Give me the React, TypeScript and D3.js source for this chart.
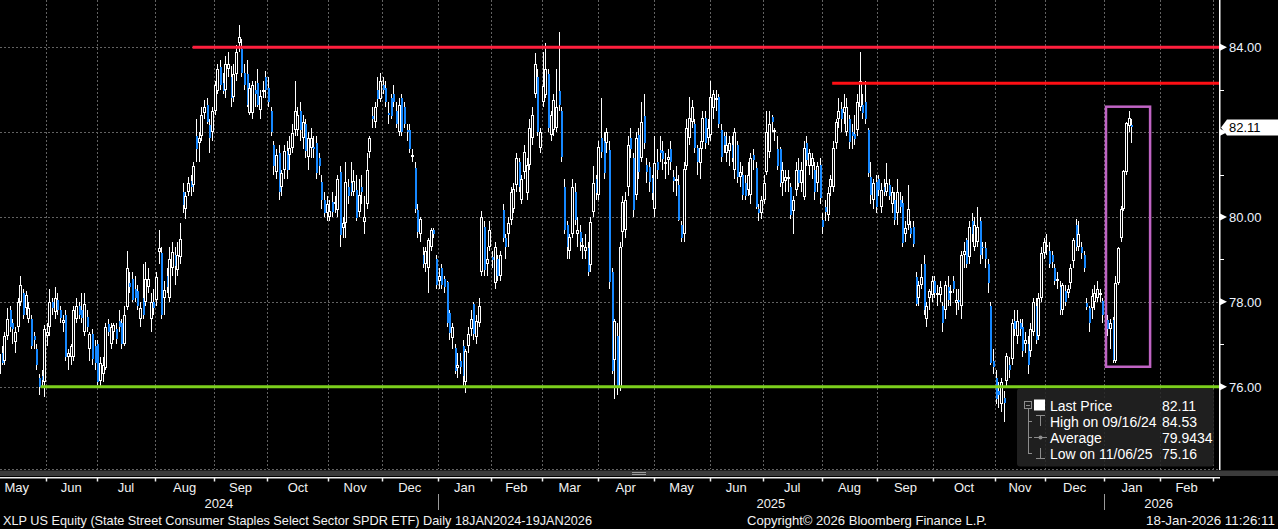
import * as d3 from "d3";

// open, high, low, close
type Bar = [number, number, number, number];

const may24: Bar[] = [
  [76.5, 76.9, 76.3, 76.7], [76.3, 76.9, 76.2, 76.78], [76.8, 76.95, 76.5, 76.55], [76.6, 77.3, 76.5, 77.2],
  [77.2, 77.85, 77.1, 77.6], [77.8, 77.9, 77.3, 77.4], [77.5, 77.6, 77.0, 77.35], [77.05, 77.4, 76.8, 77.3],
  [77.4, 78.1, 77.3, 78.0], [78.0, 78.6, 77.9, 78.4], [78.2, 78.3, 77.6, 77.7], [77.85, 78.25, 77.7, 78.15],
  [77.6, 78.0, 77.5, 77.85], [77.6, 77.7, 76.9, 76.95], [77.2, 77.3, 76.9, 77.1], [76.9, 77.0, 76.4, 76.5],
  [76.2, 76.3, 75.8, 76.0], [76.25, 76.4, 76.0, 76.15], [76.1, 77.45, 75.75, 77.35],
];
const jun24: Bar[] = [
  [77.2, 77.5, 76.95, 77.3], [77.4, 78.3, 77.2, 78.0], [78.0, 78.1, 77.7, 77.85], [77.75, 78.35, 77.6, 78.1],
  [78.05, 78.2, 77.7, 77.8], [77.8, 77.9, 77.5, 77.63], [77.5, 77.7, 77.3, 77.58], [77.7, 77.8, 76.6, 76.7],
  [76.7, 76.9, 76.4, 76.8], [76.7, 77.0, 76.5, 76.97], [76.7, 77.9, 76.6, 77.8], [77.6, 78.1, 77.5, 77.9],
  [77.9, 78.0, 77.6, 77.7], [77.8, 78.2, 77.5, 77.62], [77.28, 78.2, 77.2, 77.96], [77.65, 77.8, 77.3, 77.4],
  [76.9, 77.3, 76.6, 77.25], [77.25, 77.35, 76.5, 76.66], [76.97, 77.1, 76.4, 76.57],
];
const jul24: Bar[] = [
  [77.0, 77.1, 76.05, 76.1], [76.14, 76.7, 76.0, 76.57], [76.3, 76.7, 76.1, 76.5], [76.45, 77.5, 76.4, 77.4],
  [77.47, 77.6, 77.2, 77.28], [77.0, 77.5, 76.9, 77.4], [77.3, 77.5, 77.1, 77.45], [77.35, 77.5, 77.0, 77.13],
  [77.55, 77.8, 77.3, 77.4], [77.5, 77.6, 76.9, 77.0], [77.0, 77.9, 76.95, 77.7], [77.87, 79.2, 77.8, 78.8],
  [78.45, 78.7, 78.2, 78.35], [78.55, 78.7, 78.0, 78.05], [78.3, 78.6, 78.0, 78.1], [78.25, 78.4, 77.8, 77.9],
  [77.6, 78.0, 77.4, 77.85], [78.1, 78.9, 77.6, 77.7], [78.0, 78.95, 77.9, 78.55], [78.35, 78.8, 78.2, 78.55],
  [77.6, 78.2, 77.3, 78.0], [78.0, 78.3, 77.7, 77.85],
];
const aug24: Bar[] = [
  [78.04, 78.7, 77.9, 78.58], [79.17, 79.7, 78.9, 79.27], [79.15, 79.3, 77.6, 77.7], [78.08, 78.5, 77.7, 78.27],
  [78.6, 78.8, 78.2, 78.35], [78.1, 79.3, 78.0, 79.0], [78.8, 79.4, 78.6, 79.17], [79.1, 79.3, 78.4, 78.85],
  [78.75, 79.4, 78.6, 79.1], [79.05, 79.85, 78.9, 79.48], [80.6, 80.8, 80.1, 80.28], [80.2, 80.6, 79.95, 80.5],
  [80.6, 80.95, 80.5, 80.8], [80.85, 81.0, 80.5, 80.7], [80.75, 81.3, 80.6, 81.2], [81.9, 82.3, 81.3, 81.6],
  [81.75, 82.0, 81.3, 81.87], [81.9, 82.6, 81.8, 82.4], [82.46, 82.75, 82.3, 82.6], [82.65, 82.8, 82.2, 82.25],
  [82.17, 82.3, 81.5, 81.87], [82.0, 82.6, 81.8, 82.5],
];
const sep24: Bar[] = [
  [82.5, 83.2, 82.4, 83.1], [82.96, 83.6, 82.9, 83.5], [83.53, 83.7, 83.0, 83.12], [83.17, 83.4, 82.9, 82.96],
  [83.0, 83.8, 82.8, 83.6], [83.48, 83.9, 83.3, 83.6], [83.3, 83.55, 82.6, 82.8], [82.82, 83.6, 82.7, 83.36],
  [83.36, 84.05, 83.2, 83.9], [84.1, 84.53, 83.9, 84.25], [83.95, 84.2, 83.3, 83.4], [83.4, 83.6, 83.0, 83.12],
  [83.36, 83.7, 82.6, 82.65], [82.46, 83.15, 82.4, 83.05], [82.44, 83.2, 82.3, 83.1], [83.0, 83.2, 82.6, 82.9],
  [83.17, 83.5, 82.6, 82.65], [82.53, 83.0, 82.3, 82.85], [82.95, 83.2, 82.8, 83.0], [83.3, 83.45, 82.8, 83.0],
];
const oct24: Bar[] = [
  [83.05, 83.3, 82.6, 82.7], [82.5, 82.6, 81.9, 82.0], [81.7, 81.8, 81.0, 81.2], [81.07, 81.6, 80.9, 81.47],
  [81.5, 81.7, 80.4, 80.6], [80.7, 81.1, 80.5, 81.04], [81.1, 81.7, 80.9, 81.55], [81.55, 81.8, 80.9, 81.1],
  [81.47, 81.9, 81.1, 81.63], [81.63, 82.2, 81.5, 81.99], [82.06, 83.2, 81.9, 82.5], [82.06, 82.6, 81.9, 82.4],
  [82.5, 82.7, 81.8, 82.06], [81.87, 82.4, 81.6, 82.25], [82.2, 82.3, 81.4, 81.55], [81.42, 82.0, 81.1, 81.87],
  [81.63, 82.1, 81.4, 81.87], [81.65, 81.9, 81.4, 81.6], [81.75, 81.9, 80.9, 81.04], [81.4, 81.5, 81.0, 81.2],
  [80.83, 81.0, 80.2, 80.4], [80.4, 80.6, 80.0, 80.1], [80.1, 80.5, 79.9, 80.3],
];
const nov24: Bar[] = [
  [80.0, 80.4, 79.9, 80.14], [80.36, 80.6, 80.0, 80.12], [80.3, 80.5, 80.1, 80.36], [80.17, 81.0, 80.0, 80.9],
  [81.06, 81.2, 79.3, 79.57], [79.74, 80.0, 79.5, 79.86], [79.86, 81.3, 79.5, 80.83], [80.7, 80.9, 80.3, 80.5],
  [80.8, 81.3, 80.5, 80.6], [80.6, 81.1, 80.5, 80.85], [80.64, 81.0, 79.9, 79.98], [80.12, 80.9, 80.0, 80.52],
  [80.7, 81.0, 80.3, 80.6], [79.88, 80.5, 79.6, 80.0], [80.3, 81.5, 80.2, 81.1], [81.54, 81.9, 81.4, 81.87],
  [82.37, 82.6, 82.1, 82.3], [82.25, 82.7, 82.1, 82.6], [83.0, 83.3, 82.6, 82.77], [82.77, 83.4, 82.7, 83.2],
];
const dec24: Bar[] = [
  [83.12, 83.3, 82.9, 83.0], [83.05, 83.2, 82.6, 82.72], [82.45, 82.7, 82.2, 82.4], [82.8, 82.9, 82.3, 82.37],
  [82.9, 83.1, 82.6, 82.72], [82.5, 82.7, 82.1, 82.2], [82.0, 82.8, 81.9, 82.65], [82.8, 82.9, 81.9, 82.0],
  [82.6, 82.7, 82.1, 82.2], [82.05, 82.2, 81.8, 82.0], [82.06, 82.2, 81.5, 81.6], [81.45, 81.6, 81.3, 81.47],
  [81.16, 81.3, 80.1, 80.2], [80.17, 80.3, 79.5, 79.65], [79.6, 80.0, 79.4, 79.95], [79.1, 79.3, 78.8, 78.9],
  [78.9, 79.3, 78.7, 79.2], [78.8, 79.5, 78.2, 79.45], [79.3, 79.75, 79.2, 79.7], [79.7, 79.75, 79.5, 79.6],
  [79.0, 79.1, 78.3, 78.4],
];
const jan25: Bar[] = [
  [78.5, 78.8, 78.3, 78.6], [78.8, 78.9, 78.3, 78.4], [78.55, 78.6, 78.2, 78.35], [78.46, 78.5, 77.4, 77.5],
  [77.73, 77.8, 77.1, 77.26], [77.15, 77.5, 76.9, 77.4], [76.92, 77.0, 76.3, 76.38], [76.43, 76.8, 76.2, 76.5],
  [76.6, 76.8, 76.3, 76.47], [76.97, 77.1, 76.0, 76.26], [76.1, 76.9, 75.86, 76.85], [76.97, 77.4, 76.8, 77.25],
  [77.37, 77.8, 77.2, 77.6], [77.96, 78.0, 77.1, 77.25], [77.16, 77.7, 77.0, 77.56], [77.5, 78.1, 77.4, 77.9],
  [78.7, 80.15, 78.6, 80.0], [79.76, 79.9, 78.6, 78.75], [78.9, 79.3, 78.6, 79.0], [79.3, 79.9, 79.2, 79.7],
];
const feb25: Bar[] = [
  [79.06, 79.2, 78.8, 78.99], [78.44, 79.4, 78.3, 79.3], [79.0, 79.1, 78.5, 78.6], [78.6, 79.2, 78.5, 79.1],
  [80.17, 80.3, 79.4, 79.5], [79.5, 79.6, 79.0, 79.3], [79.6, 80.0, 79.3, 79.85], [79.93, 80.7, 79.8, 80.6],
  [80.2, 80.8, 80.1, 80.65], [80.76, 81.5, 80.6, 81.4], [81.3, 81.4, 80.6, 80.7], [80.4, 81.0, 80.3, 80.9],
  [81.07, 81.7, 80.9, 81.54], [80.57, 81.4, 80.4, 81.23], [81.23, 82.3, 81.1, 82.1], [81.87, 82.6, 81.7, 82.4],
  [82.9, 83.86, 82.8, 83.6], [83.3, 83.5, 81.9, 82.0], [81.63, 82.1, 81.5, 82.0],
];
const mar25: Bar[] = [
  [82.7, 83.9, 82.6, 83.08], [82.88, 84.1, 82.8, 83.5], [83.36, 83.5, 82.0, 82.1], [81.94, 82.5, 81.8, 82.4],
  [82.06, 82.9, 81.9, 82.76], [82.1, 83.5, 82.0, 82.6], [82.96, 84.35, 82.5, 82.65], [82.5, 82.6, 81.3, 81.42],
  [80.7, 80.9, 79.6, 79.7], [79.8, 79.9, 79.0, 79.3], [79.2, 79.6, 79.0, 79.53], [79.6, 80.9, 79.5, 80.7],
  [80.6, 80.8, 79.8, 79.93], [79.6, 80.0, 79.3, 79.7], [79.65, 79.8, 79.2, 79.4], [79.3, 79.5, 79.0, 79.35],
  [79.2, 79.6, 79.0, 79.3], [79.27, 79.4, 78.6, 78.7], [78.86, 80.0, 78.7, 79.88], [80.12, 81.2, 80.0, 80.8],
  [80.9, 81.0, 80.4, 80.57],
];
const apr25: Bar[] = [
  [80.52, 81.8, 80.4, 81.66], [81.87, 82.8, 81.4, 81.54], [81.8, 82.0, 80.9, 81.04], [81.75, 82.1, 81.5, 82.0],
  [81.59, 81.8, 78.3, 78.46], [78.7, 78.8, 76.3, 76.38], [76.62, 77.6, 75.7, 77.56], [77.2, 77.5, 75.8, 76.0],
  [76.0, 79.4, 75.9, 79.3], [79.64, 80.5, 79.3, 80.36], [79.7, 80.6, 79.5, 80.4], [80.7, 81.9, 80.5, 81.7],
  [81.87, 82.1, 81.4, 81.6], [81.4, 81.5, 80.0, 80.17], [80.52, 82.0, 80.4, 81.87], [81.94, 82.1, 80.9, 81.07],
  [81.4, 82.7, 81.3, 82.25], [82.37, 82.9, 81.6, 81.75], [81.23, 81.4, 80.8, 81.07], [81.18, 81.3, 80.6, 80.83],
  [80.92, 81.0, 80.4, 80.57],
];
const may25: Bar[] = [
  [80.2, 81.9, 80.0, 81.28], [81.3, 81.6, 80.9, 81.1], [81.59, 81.9, 81.3, 81.5], [81.55, 81.8, 81.1, 81.36],
  [81.25, 81.5, 80.9, 81.3], [81.35, 81.6, 81.0, 81.42], [81.6, 81.8, 81.1, 81.3], [80.95, 81.1, 80.6, 80.85],
  [80.85, 81.2, 80.5, 80.9], [80.75, 81.0, 79.9, 79.93], [79.8, 79.9, 79.4, 79.5], [79.6, 81.3, 79.4, 81.14],
  [81.2, 82.3, 81.1, 82.1], [81.87, 82.84, 81.7, 82.34], [82.25, 82.75, 82.1, 82.6], [82.2, 82.3, 81.5, 81.63],
  [81.63, 81.7, 81.0, 81.3], [81.28, 81.8, 80.9, 81.63], [81.77, 82.5, 81.6, 82.34], [82.34, 82.5, 81.6, 81.75],
  [81.87, 82.3, 81.7, 82.1],
];
const jun25: Bar[] = [
  [81.94, 83.2, 81.8, 82.84], [82.58, 83.0, 82.3, 82.9], [82.75, 83.0, 82.5, 82.8], [82.82, 82.9, 82.1, 82.2],
  [82.06, 82.2, 81.3, 81.42], [81.9, 82.0, 81.5, 81.7], [81.5, 82.0, 81.3, 81.7], [81.55, 81.9, 81.2, 81.75],
  [81.7, 81.9, 81.3, 81.4], [81.1, 82.1, 80.9, 82.0], [81.7, 81.8, 80.8, 80.95], [80.95, 81.3, 80.7, 81.05],
  [81.0, 81.2, 80.4, 80.52], [80.8, 81.0, 80.4, 80.5], [80.64, 81.3, 80.5, 81.0], [80.52, 81.5, 80.3, 81.4],
  [81.45, 81.6, 81.1, 81.35], [81.16, 81.3, 80.2, 80.24], [80.2, 80.3, 79.9, 80.1], [80.1, 80.5, 79.95, 80.4],
];
const jul25: Bar[] = [
  [80.4, 81.0, 80.3, 80.8], [81.07, 82.5, 81.0, 82.0], [81.54, 82.5, 81.4, 82.2], [82.35, 82.4, 82.0, 82.25],
  [82.0, 82.1, 81.8, 82.05], [81.6, 81.9, 81.1, 81.2], [81.6, 81.65, 80.7, 80.8], [80.8, 81.3, 80.5, 81.1],
  [80.85, 81.1, 80.6, 80.95], [80.9, 81.1, 80.6, 80.95], [80.7, 80.8, 79.95, 80.05], [80.14, 80.5, 79.6, 80.4],
  [80.64, 81.3, 80.5, 81.1], [81.1, 81.4, 80.7, 80.8], [80.8, 81.3, 80.6, 81.1], [80.47, 81.8, 80.4, 81.63],
  [81.75, 81.9, 81.2, 81.35], [81.2, 81.6, 81.0, 81.5], [81.2, 81.5, 80.9, 81.4], [81.1, 81.3, 80.4, 80.6],
  [80.8, 81.3, 80.6, 81.2], [81.23, 81.4, 80.3, 80.45],
];
const aug25: Bar[] = [
  [79.93, 80.1, 79.6, 79.76], [80.24, 80.4, 79.9, 80.12], [80.05, 80.7, 79.9, 80.57], [80.7, 81.0, 80.5, 80.9],
  [80.7, 81.8, 80.6, 81.63], [81.75, 82.3, 81.6, 82.25], [82.3, 82.8, 82.1, 82.5], [82.55, 82.7, 82.0, 82.3],
  [82.46, 82.9, 82.2, 82.6], [82.0, 82.8, 81.9, 82.6], [82.3, 82.4, 81.6, 81.77], [82.0, 82.2, 81.6, 81.9],
  [81.95, 82.4, 81.7, 81.85], [82.06, 82.9, 81.9, 82.72], [82.6, 83.88, 82.5, 83.2], [82.65, 82.9, 82.3, 82.46],
  [82.72, 83.2, 82.2, 82.3], [82.06, 82.1, 80.95, 81.04], [80.95, 81.3, 80.3, 80.52], [80.4, 80.9, 80.2, 80.8],
  [80.83, 81.0, 80.1, 80.24],
];
const sep25: Bar[] = [
  [80.9, 81.0, 80.5, 80.64], [80.24, 80.8, 80.1, 80.64], [80.7, 80.9, 80.5, 80.6], [80.6, 81.28, 80.5, 80.8],
  [80.75, 80.9, 80.4, 80.5], [80.3, 80.7, 80.1, 80.6], [80.4, 80.6, 79.8, 79.93], [80.1, 80.9, 79.8, 80.6],
  [80.4, 80.6, 80.1, 80.24], [80.33, 80.5, 79.3, 79.38], [79.6, 79.9, 79.4, 79.75], [79.8, 80.76, 79.7, 80.2],
  [79.75, 79.9, 79.5, 79.6], [79.76, 79.9, 79.3, 79.36], [78.58, 78.7, 77.9, 77.96], [78.08, 78.5, 77.9, 78.4],
  [78.4, 78.9, 78.3, 78.58], [78.9, 79.1, 77.7, 77.8], [77.6, 78.0, 77.4, 77.9], [78.1, 78.3, 77.8, 78.25],
  [78.15, 78.6, 78.0, 78.5],
];
const oct25: Bar[] = [
  [78.5, 78.6, 78.1, 78.2], [78.15, 78.4, 77.9, 78.2], [78.15, 78.5, 78.0, 78.35], [77.9, 78.0, 77.3, 77.5],
  [77.8, 78.5, 77.6, 78.4], [78.35, 78.6, 77.9, 78.05], [78.2, 78.4, 77.9, 78.25], [78.5, 78.6, 78.2, 78.3],
  [77.97, 78.3, 77.7, 78.05], [78.05, 78.3, 77.8, 78.0], [77.9, 79.2, 77.6, 79.1], [79.1, 79.4, 78.8, 79.2],
  [79.45, 79.5, 78.8, 78.9], [79.05, 79.9, 78.9, 79.76], [79.9, 80.1, 79.4, 79.6], [79.3, 80.0, 79.2, 79.8],
  [79.4, 80.24, 79.3, 79.76], [79.9, 80.0, 78.9, 79.1], [79.3, 79.4, 79.0, 79.26], [79.26, 79.4, 78.8, 79.0],
  [78.9, 79.0, 78.2, 78.44], [77.9, 78.0, 76.5, 76.57], [76.6, 76.9, 76.3, 76.47],
];
const nov25: Bar[] = [
  [76.2, 76.4, 75.6, 75.7], [75.9, 76.1, 75.5, 75.8], [75.6, 76.2, 75.4, 76.1], [75.74, 75.9, 75.16, 75.62],
  [76.14, 76.8, 76.0, 76.73], [76.5, 76.7, 76.2, 76.4], [76.66, 77.6, 76.5, 77.5], [77.55, 77.8, 77.2, 77.35],
  [77.2, 77.8, 77.0, 77.55], [77.5, 77.6, 77.2, 77.35], [77.4, 77.6, 76.7, 76.85], [77.0, 77.3, 76.8, 77.1],
  [77.0, 77.2, 76.3, 76.5], [76.85, 77.5, 76.7, 77.35], [77.3, 78.1, 77.2, 78.0], [77.9, 78.1, 77.0, 77.1],
  [77.2, 78.2, 77.1, 78.08], [78.1, 79.3, 78.0, 79.15], [79.15, 79.5, 79.0, 79.4],
];
const dec25: Bar[] = [
  [79.3, 79.6, 79.1, 79.35], [79.2, 79.4, 78.8, 78.9], [79.1, 79.2, 78.8, 78.95], [78.8, 78.9, 78.4, 78.5],
  [78.5, 78.7, 78.3, 78.55], [78.35, 78.5, 77.7, 77.8], [77.8, 78.45, 77.7, 78.4], [78.25, 78.4, 77.9, 78.0],
  [78.2, 78.4, 78.1, 78.3], [78.44, 78.9, 78.3, 78.8], [78.96, 79.5, 78.8, 79.45], [79.8, 79.96, 79.2, 79.3],
  [79.3, 79.9, 79.2, 79.6], [79.3, 79.4, 79.0, 79.15], [79.1, 79.2, 78.7, 78.8], [77.98, 78.1, 77.8, 77.87],
  [77.85, 77.9, 77.3, 77.5], [77.85, 78.3, 77.6, 78.13], [78.0, 78.4, 77.8, 78.2], [78.1, 78.5, 78.0, 78.3],
  [78.2, 78.3, 78.0, 78.2], [78.03, 78.1, 77.5, 77.7],
];
const jan26: Bar[] = [
  [77.75, 77.9, 77.4, 77.58], [77.58, 77.7, 77.2, 77.37], [77.37, 77.6, 76.9, 77.5], [77.58, 77.65, 76.55, 76.64],
  [76.6, 78.6, 76.55, 78.44], [78.44, 79.3, 78.4, 79.27], [79.5, 80.25, 79.4, 80.2], [80.2, 81.1, 80.15, 81.09],
  [81.07, 82.25, 81.0, 82.22], [82.15, 82.5, 82.0, 82.33], [82.17, 82.3, 81.74, 82.11],
];

// x axis: one slot per trading day, months as on the terminal
const MONTH_LABELS = ["May", "Jun", "Jul", "Aug", "Sep", "Oct", "Nov", "Dec",
  "Jan", "Feb", "Mar", "Apr", "May", "Jun", "Jul", "Aug", "Sep", "Oct", "Nov", "Dec", "Jan", "Feb"];
const MONTH_YEARS = [2024, 2024, 2024, 2024, 2024, 2024, 2024, 2024,
  2025, 2025, 2025, 2025, 2025, 2025, 2025, 2025, 2025, 2025, 2025, 2025, 2026, 2026];
const MONTH_SLOTS = [22, 19, 22, 22, 20, 23, 20, 21, 20, 19, 21, 21, 21, 20, 22, 21, 21, 23, 19, 22, 21, 20];
const MONTH_BARS: Bar[][] = [may24, jun24, jul24, aug24, sep24, oct24, nov24, dec24,
  jan25, feb25, mar25, apr25, may25, jun25, jul25, aug25, sep25, oct25, nov25, dec25, jan26, []];
const LEAD_SLOTS = 3; // first bars of May 2024 are off the left edge

const Y_TICKS = [84, 82, 80, 78, 76];
const Y_MINOR = [83, 81, 79, 77];

const LEVELS = [
  { value: 84.0, fromSlot: 77, color: "#ff1f3d" },
  { value: 83.15, fromSlot: 317, color: "#ff0f14" },
  { value: 76.0, fromSlot: 20, color: "#7ccf1c" },
];
const HIGHLIGHT = { fromSlot: 419.75, toSlot: 436.3, high: 82.6, low: 76.47 };
const LAST_PRICE = 82.11;
const LEGEND_ROWS = [
  ["Last Price", "82.11"],
  ["High on 09/16/24", "84.53"],
  ["Average", "79.9434"],
  ["Low on 11/06/25", "75.16"],
];

const W = 1278;
const H = 529;
const PLOT_R = 1219;
const PLOT_B = 469;
const FONT = "'Liberation Sans', Arial, sans-serif";
const BLUE = "#1688ff";
const GRID = "#626262";

export default function App() {
  const monthStart: number[] = [];
  let acc = 0;
  MONTH_SLOTS.forEach((s) => {
    monthStart.push(acc);
    acc += s;
  });
  const totalSlots = acc;

  const x = d3.scaleLinear().domain([monthStart[1], monthStart[20]]).range([46, 1104]);
  const y = d3.scaleLinear().domain([76, 84]).range([386.7, 47.3]);

  const candles = MONTH_BARS.flatMap((bars, m) =>
    bars.map((b, k) => ({
      slot: monthStart[m] + (m === 0 ? LEAD_SLOTS : 0) + k,
      o: b[0], h: b[1], l: b[2], c: b[3],
    }))
  );

  const boundaries = monthStart.slice(1).concat([totalSlots]);

  const years = Array.from(new Set(MONTH_YEARS));
  const yearSpans = years.map((yr) => {
    const first = MONTH_YEARS.indexOf(yr);
    const last = MONTH_YEARS.lastIndexOf(yr);
    const x0 = Math.max(0, x(monthStart[first]));
    const x1 = Math.min(PLOT_R, x(monthStart[last] + MONTH_SLOTS[last]));
    return { yr, x0, x1, sep: first > 0 ? Math.round(x(monthStart[first])) + 0.5 : null };
  });

  const yl = y(LAST_PRICE);

  return (
    <svg
      width={W}
      height={H}
      style={{ position: "absolute", left: 0, top: 0, display: "block", background: "#000" }}
      fontFamily={FONT}
    >
      <rect x={0} y={0} width={W} height={H} fill="#000" />

      {/* grid */}
      <g stroke={GRID} strokeWidth={1} strokeDasharray="2,2" shapeRendering="crispEdges">
        {boundaries.map((s, i) => {
          const gx = Math.round(x(s)) + 0.5;
          return gx < PLOT_R ? <line key={i} x1={gx} x2={gx} y1={0} y2={PLOT_B} /> : null;
        })}
        {Y_TICKS.map((t) => (
          <line key={t} x1={0} x2={PLOT_R} y1={Math.round(y(t)) + 0.5} y2={Math.round(y(t)) + 0.5} />
        ))}
        <line x1={0} x2={PLOT_R} y1={PLOT_B + 0.5} y2={PLOT_B + 0.5} />
      </g>

      {/* candles */}
      <g shapeRendering="crispEdges">
        {candles.map((d, i) => {
          const p = Math.floor(x(d.slot + 0.5));
          const yo = y(d.o);
          const yc = y(d.c);
          const top = Math.round(Math.min(yo, yc));
          const bot = Math.round(Math.max(yo, yc));
          const up = d.c >= d.o;
          return (
            <g key={i}>
              <line x1={p + 0.5} x2={p + 0.5} y1={Math.round(y(d.h))} y2={Math.round(y(d.l))} stroke="#fff" strokeWidth={1} />
              {up ? (
                <rect x={p - 0.5} y={top + 0.5} width={2} height={Math.max(bot - top - 1, 1)} fill="#000" stroke="#fff" strokeWidth={1} />
              ) : (
                <rect x={p} y={top} width={2} height={Math.max(bot - top, 1)} fill={BLUE} />
              )}
            </g>
          );
        })}
      </g>

      {/* support / resistance */}
      {LEVELS.map((lv, i) => (
        <line key={i} x1={x(lv.fromSlot)} x2={PLOT_R} y1={y(lv.value)} y2={y(lv.value)} stroke={lv.color} strokeWidth={3} />
      ))}

      {/* highlight box */}
      <rect
        x={x(HIGHLIGHT.fromSlot)}
        y={y(HIGHLIGHT.high)}
        width={x(HIGHLIGHT.toSlot) - x(HIGHLIGHT.fromSlot)}
        height={y(HIGHLIGHT.low) - y(HIGHLIGHT.high)}
        fill="none"
        stroke="#c064c4"
        strokeWidth={2.5}
      />

      {/* right axis */}
      <line x1={PLOT_R + 0.75} x2={PLOT_R + 0.75} y1={0} y2={PLOT_B + 1} stroke="#fff" strokeWidth={1.5} />
      {Y_MINOR.map((t) => (
        <line key={t} x1={PLOT_R + 1} x2={PLOT_R + 5} y1={Math.round(y(t)) + 0.5} y2={Math.round(y(t)) + 0.5} stroke="#fff" strokeWidth={1} />
      ))}
      {Y_TICKS.map((t) => (
        <g key={t}>
          <path d={`M${PLOT_R + 1},${y(t) - 3.5} L${PLOT_R + 8},${y(t)} L${PLOT_R + 1},${y(t) + 3.5} Z`} fill="#fff" />
          {/* the terminal hides a tick label that sits under the last-price tag */}
          {Math.abs(y(t) - yl) > 12 && (
            <text x={PLOT_R + 10} y={y(t) + 5} fill="#eef4ff" fontSize={13}>
              {t.toFixed(2)}
            </text>
          )}
        </g>
      ))}
      <path
        d={`M${PLOT_R + 2},${yl} L${PLOT_R + 8},${yl - 8} L${W},${yl - 8} L${W},${yl + 8} L${PLOT_R + 8},${yl + 8} Z`}
        fill="#fff"
      />
      <text x={PLOT_R + 10} y={yl + 5} fill="#000" fontSize={13}>
        {LAST_PRICE.toFixed(2)}
      </text>

      {/* legend */}
      <g>
        <rect x={1017} y={388.5} width={197} height={78} rx={3} fill="rgba(36,36,36,0.85)" />
        <g stroke="#8c8c8c" strokeWidth={1} fill="none" shapeRendering="crispEdges">
          <rect x={1024.5} y={401.5} width={7} height={7} />
          <line x1={1026} x2={1030} y1={405} y2={405} />
          <line x1={1028.5} x2={1028.5} y1={409} y2={453} />
          <line x1={1028} x2={1032} y1={421.5} y2={421.5} />
          <line x1={1028} x2={1032} y1={437.5} y2={437.5} />
          <line x1={1028} x2={1032} y1={453.5} y2={453.5} />
          <line x1={1036} x2={1045} y1={415.5} y2={415.5} />
          <line x1={1040.5} x2={1040.5} y1={415} y2={426} />
          <line x1={1034} x2={1047} y1={437.5} y2={437.5} />
          <line x1={1040.5} x2={1040.5} y1={448} y2={458} />
          <line x1={1036} x2={1045} y1={458.5} y2={458.5} />
        </g>
        <circle cx={1040.5} cy={437.5} r={2} fill="#8c8c8c" />
        <rect x={1034} y={399.5} width={11} height={11} fill="#fff" />
        {LEGEND_ROWS.map(([label, val], i) => (
          <g key={label} fontSize={14} fill="#fff">
            <text x={1050} y={410.5 + i * 16}>{label}</text>
            <text x={1162} y={410.5 + i * 16}>{val}</text>
          </g>
        ))}
      </g>

      {/* bottom scroll strip and time axis */}
      <rect x={0} y={470.5} width={W} height={5.5} fill="#3b3b3b" />
      <line x1={632} x2={646} y1={472.5} y2={472.5} stroke="#9a9a9a" strokeWidth={1} />
      <line x1={632} x2={646} y1={474.5} y2={474.5} stroke="#9a9a9a" strokeWidth={1} />
      <line x1={0} x2={PLOT_R + 1} y1={477.75} y2={477.75} stroke="#ededed" strokeWidth={1.5} />
      {boundaries.map((s, i) => {
        const tx = Math.round(x(s)) + 0.5;
        return tx < PLOT_R ? <line key={i} x1={tx} x2={tx} y1={478} y2={481.5} stroke="#ededed" strokeWidth={1.5} /> : null;
      })}
      {MONTH_LABELS.map((lab, m) => (
        <text
          key={m}
          x={(x(monthStart[m]) + x(monthStart[m] + MONTH_SLOTS[m])) / 2}
          y={492}
          textAnchor="middle"
          fill="#f2f2f2"
          fontSize={13}
        >
          {lab}
        </text>
      ))}
      {yearSpans.map((s) => (
        <g key={s.yr}>
          {s.sep !== null && <line x1={s.sep} x2={s.sep} y1={494} y2={510} stroke="#9a9a9a" strokeWidth={1} />}
          <text x={(s.x0 + s.x1) / 2} y={508} textAnchor="middle" fill="#f2f2f2" fontSize={13}>
            {s.yr}
          </text>
        </g>
      ))}

      {/* footer */}
      <g fill="#f2f2f2" fontSize={13}>
        <text x={3} y={524.5} textLength={589} lengthAdjust="spacingAndGlyphs">
          XLP US Equity (State Street Consumer Staples Select Sector SPDR ETF) Daily 18JAN2024-19JAN2026
        </text>
        <text x={747} y={524.5} textLength={240} lengthAdjust="spacingAndGlyphs">
          Copyright© 2026 Bloomberg Finance L.P.
        </text>
        <text x={1146} y={524.5} textLength={129} lengthAdjust="spacingAndGlyphs">
          18-Jan-2026 11:26:11
        </text>
      </g>
    </svg>
  );
}
